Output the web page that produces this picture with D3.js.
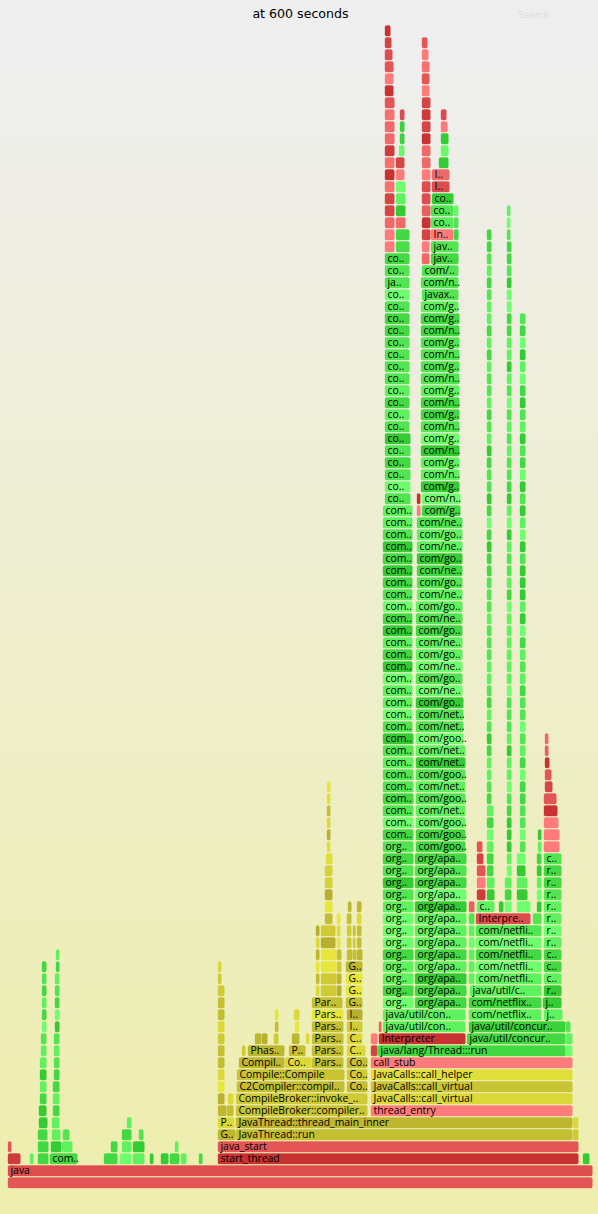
<!DOCTYPE html>
<html><head><meta charset="utf-8">
<script src="https://cdn.jsdelivr.net/npm/d3@7/dist/d3.min.js"></script>
<style>html,body{margin:0;padding:0;background:#eeeeb0}svg{display:block}</style>
</head><body><div id="chart"></div>
<script>
const chartTitle = "at 600 seconds", searchLabel = "Search";
const totalSamples = 585, maxDepth = 100;

// [depth, firstSample, lastSample, label, shade]
const rootRed = [[0,0,585,"",2],[1,0,585,"java",1.5],[2,0,13,"",0.5],[3,0,4,"",2],[2,210,571,"start_thread",0],[3,210,571,"java_start",2],
 [6,363,565,"thread_entry",4],[10,363,565,"call_stub",4],[11,363,370,"",1],[12,363,370,"",4],[12,371,458,"Interpreter",0],[13,371,374,"",2.5],
 [22,468,523,"Interpre..",1.5],[23,461,467,"",2.5],[24,469,478,"",0.5],[25,469,478,"",4],[26,469,478,"",2],[27,469,476,"",1],[28,469,475,"",2],
 [28,536,552,"",4],[29,536,552,"",4],[30,536,551,"",4],[31,536,550,"",0],[32,536,549,"",2],[33,537,545,"",1],[34,537,544,"",2],[35,537,542,"",0],[36,537,541,"",2.5],[37,537,541,"",3],
 [56,409,413,"",4],[57,409,413,"",0]];

const leftGreen = [[2,22,26,"",3],[2,30,41,"",1],[2,42,70,"com..",1],[2,96,110,"",1],[2,112,124,"",4],[2,125,137,"",3],[2,142,146,"",0],[2,153,161,"",0],[2,162,172,"",1],[2,173,179,"",3],[2,191,195,"",1],[2,575,582,"",0],
 [3,30,41,"",1],[3,43,54,"",0],[3,54,65,"",3],[3,103,110,"",1],[3,114,124,"",3],[3,125,137,"",0],[3,167,171,"",3],
 [4,30,40,"",1],[4,44,53,"",3],[4,55,62,"",2],[4,114,124,"",1],[4,131,136,"",2],
 [5,31,40,"",0],[5,44,52,"",3],[5,119,124,"",3],
 [6,31,39,"",0],[6,45,52,"",1],[7,32,39,"",1],[7,45,52,"",3],[8,32,39,"",3],[8,45,52,"",1],[9,32,39,"",0],[9,46,52,"",1],
 [10,32,39,"",3],[10,46,52,"",2],[11,33,39,"",3],[11,46,52,"",3],[12,33,39,"",2],[12,46,52,"",2],[13,34,39,"",4],[13,47,52,"",0],
 [14,34,39,"",1],[14,47,52,"",4],[15,34,39,"",3],[15,47,52,"",1],[16,34,39,"",1],[16,47,52,"",2],[17,34,39,"",2],[17,47,52,"",3],[18,34,39,"",1],[18,48,52,"",1],[19,48,52,"",3]];

const compileYellow = [[4,210,228,"G..",0.5],[4,228,565,"JavaThread::run",1],[4,565,571,"",2],
 [5,210,227,"P..",3],[5,228,565,"JavaThread::thread_main_inner",0.5],[5,565,571,"",3],
 [6,210,219,"",0.5],[6,219,226,"",1],[6,228,360,"CompileBroker::compiler..",1.5],
 [7,210,217,"",0],[7,220,226,"",3],[7,228,360,"CompileBroker::invoke_..",2],[7,363,565,"JavaCalls::call_virtual",3],
 [8,210,217,"",4],[8,229,337,"C2Compiler::compil..",1],[8,339,360,"Co..",1],[8,363,565,"JavaCalls::call_virtual",1.5],
 [9,210,217,"",3],[9,229,337,"Compile::Compile",1.5],[9,339,360,"Co..",2],[9,363,565,"JavaCalls::call_helper",3.5],
 [10,210,217,"",1],[10,231,277,"Compil..",0.5],[10,277,304,"Co..",3],[10,304,336,"Pars..",1],[10,339,360,"Co..",1],
 [11,210,217,"",1],[11,234,238,"",2],[11,240,277,"Phas..",0.5],[11,281,298,"P..",1],[11,304,336,"Pars..",1],[11,339,358,"C..",3],
 [12,210,217,"",2],[12,247,254,"",0.5],[12,254,260,"",0],[12,266,271,"",2],[12,284,292,"",0.5],[12,298,302,"",3],[12,304,336,"Pars..",1],[12,339,355,"C..",3],
 [13,210,217,"",3],[13,267,271,"",1],[13,287,292,"",4],[13,304,336,"Pars..",1],[13,339,355,"I..",2],
 [14,210,217,"",1],[14,267,271,"",4],[14,286,292,"",3],[14,304,336,"Pars..",4],[14,339,355,"I..",0],
 [15,210,217,"",1],[15,304,335,"Par..",1],[15,338,355,"G..",1],
 [16,210,217,"",2],[16,308,312,"",3],[16,313,329,"",2],[16,329,334,"",0],[16,338,355,"G..",4],
 [17,210,214,"",2],[17,308,312,"",1],[17,313,329,"",2],[17,329,334,"",0.5],[17,338,355,"G..",4],
 [18,210,214,"",3],[18,308,312,"",4],[18,313,329,"",4],[18,329,334,"",2],[18,338,355,"G..",0.5],
 [19,308,312,"",0.5],[19,313,329,"",4],[19,329,334,"",1],[19,339,345,"",1],[19,345,349,"",1],[19,349,355,"",0.5],
 [20,308,312,"",3],[20,313,328,"",0],[20,329,333,"",4],[20,339,344,"",2],[20,345,348,"",2],[20,349,354,"",1],
 [21,308,312,"",0],[21,313,328,"",2],[21,329,333,"",3],[21,339,344,"",2],[21,345,348,"",1],[21,349,354,"",1],
 [22,317,325,"",1],[22,329,333,"",4],[22,339,344,"",1],[22,349,354,"",3],
 [23,317,325,"",4],[23,340,344,"",0.5],[23,349,354,"",0.5],
 [24,317,325,"",0],[25,317,325,"",2.5],[26,317,325,"",2.5],[27,318,325,"",3.5],
 [28,319,323,"",3.5],[29,319,323,"",0],[30,319,323,"",3],[31,319,323,"",1],[32,319,323,"",3.5],[33,319,323,"",4]];

const threadGreen = [[11,370,558,"java/lang/Thread:::run",1],[11,558,565,"",4],
 [12,459,558,"java/util/concur..",1],[12,558,565,"",3],
 [13,375,458,"java/util/con..",3],[13,461,558,"java/util/concur..",0.5],[13,558,563,"",2],
 [14,375,458,"java/util/con..",3],[14,461,534,"com/netflix..",3],[14,536,555,"j..",3],
 [15,461,534,"com/netflix..",1],[15,535,554,"j..",0],[16,462,534,"java/util/c..",3],[16,536,554,"r..",0],
 [17,461,467,"",3],[17,468,534,"com/netfli..",3],[17,536,554,"c..",3],
 [18,461,467,"",3],[18,468,534,"com/netfli..",4],[18,536,554,"c..",1],
 [19,461,467,"",3],[19,468,534,"com/netfli..",1],[19,536,554,"c..",1],
 [20,461,467,"",4],[20,468,534,"com/netfli..",4],[20,536,554,"r..",3],
 [21,461,467,"",3],[21,468,534,"com/netfli..",2],[21,536,554,"r..",4],
 [22,461,467,"",2],[22,525,534,"",2],[22,536,554,"r..",3],
 [23,469,487,"c..",3],[23,491,496,"",0],[23,529,534,"",0],[23,536,554,"r..",3],
 [24,529,534,"",4],[24,536,554,"r..",2],[25,529,534,"",3],[25,536,554,"r..",1],
 [26,529,534,"",0],[26,536,554,"r..",1],[27,529,534,"",1],[27,536,554,"c..",2],
 [28,530,534,"",3],[29,530,534,"",0]];

// Tall towers: one shade (and optionally one label) per level, lowest level first.
const towerAFirst = 15;
const towerAShades = [4,1,3,3,1,4,4,4,3,2,0,2,1,2,1,4,2,1,2,2,3,2,0,2,4,3,3,4,0,1,3,0,1,4,2,1,0,1,0,2,3,3,2,4,2,1,2,0,2,3,1,3,2,2,2,2,1,1,2,4,2,2,1];
const towerALabels = ["org..","org..","org..","org..","org..","org..","org..","org..","org..","org..","org..","org..","org..","org..",
 "com..","com..","com..","com..","com..","com..","com..","com..","com..","com..","com..","com..","com..","com..","com..","com..","com..","com..","com..","com..","com..","com..","com..","com..","com..","com..","com..","com..",
 "co..","co..","co..","co..","co..","co..","co..","co..","co..","co..","co..","co..","co..","co..","co..","co..","co..","co..","ja..","co..","co.."];
const towerASpans = [[15,37,375,406],[38,56,375,405],[57,62,377,403],[63,77,377,402]];

const towerBFirst = 15;
const towerBShades = [1,1,0,3,1,3,3,3,0,4,1,2,1,1,1,3,3,2,3,2,0,3,4,2,2,0,4,2,4,3,3,1,2,3,3,2,1,0,3,3,2,1,4,0,3,3,0,4,2,1,1,3,2,2,2,2,1,1,3,2,2,2];
const towerBLabels = ["org/apa..","org/apa..","org/apa..","org/apa..","org/apa..","org/apa..","org/apa..","org/apa..","org/apa..","org/apa..","org/apa..","org/apa..","org/apa..",
 "com/goo..","com/goo..","com/goo..","com/net..","com/goo..","com/net..","com/goo..","com/net..","com/net..","com/goo..","com/net..","com/net..",
 "com/go..","com/ne..","com/go..","com/ne..","com/go..","com/ne..","com/go..","com/ne..","com/go..","com/ne..","com/go..","com/ne..","com/go..","com/ne..","com/go..","com/ne..",
 "com/g..","com/n..","com/g..","com/n..","com/g..","com/n..","com/g..","com/n..","com/g..","com/n..","com/g..","com/n..","com/g..","com/n..","com/g..","com/n..","com/g..",
 "com/g..","javax..","com/n..","com/.."];
const towerBSpans = [[15,27,407,459],[28,36,408,458],[37,40,408,456],[41,48,408,455],[49,55,409,455],[56,57,414,453],[58,72,413,452],[73,73,413,451],[74,74,414,451],[75,75,413,451],[76,76,414,451]];
const towerBTop = [[77,423,451,"jav..",1],[78,423,451,"jav..",2],[80,423,446,"co..",2.5],[81,423,446,"co..",2],[82,424,446,"co..",0],[85,431,441,"",0],[86,433,441,"",3.5],[87,433,441,"",0],
 [79,446,451,"",1],[80,446,451,"",2],[81,446,451,"",3.5],
 [78,388,402,"",1.5],[79,388,402,"",1],[81,388,398,"",0],[82,388,398,"",3],[83,388,398,"",4],[86,391,397,"",3.5],[87,392,397,"",0.5],[88,392,397,"",0.5]];

const towerCFirst = 24;
const towerCShades = [0,3,1,1,3,4,1,3,1,2,3,3,1,0,2,3,1,2,3,3,2,2,2,3,2,2,2,1,1,0,1,4,1,0,2,2,1,0,3,2,1,3,2,2,3,1,3,1,3,3,2,1,3,2,1,1];
const towerCSpans = [[24,25,479,487],[26,31,479,486],[32,79,479,484]];
const towerDFirst = 23;
const towerDShades = [4,1,3,4,3,0,0,0,1,2,4,3,3,0,3,2,2,2,4,3,3,3,3,3,3,4,1,3,2,2,3,0,4,3,0,1,2,2,3,2,3,2,4,2,3,0,3,3,1,1,4,4,0,2,1,1,2,4,3];
const towerDSpans = [[23,25,497,504],[26,78,499,504],[79,81,499,503]];
const towerEFirst = 23;
const towerEShades = [4,0,3,0,4,2,4,2,2,1,1,4,1,3,2,4,2,2,1,3,2,3,1,4,0,3,0,0,0,2,0,4,3,0,2,0,4,1,2,0,3,2,0,1,4,3,0,4,1,2];
const towerESpans = [[23,23,509,523],[24,25,509,520],[26,27,509,518],[28,72,512,518]];

// Red leaves on top of the two main towers: [depth, first, last, label, shade]
const topRed = [[96,377,383,"",0],[95,377,384,"",1],[94,377,385,"",1.5],[93,377,386,"",2],[92,377,386,"",4],[91,377,386,"",0],[90,377,387,"",2],[89,377,387,"",3.5],[88,377,387,"",3],[87,377,387,"",3],[86,377,387,"",0.5],[85,377,387,"",3.5],[84,377,387,"",0],[83,377,387,"",3.5],[82,377,387,"",1],[81,377,387,"",1],[80,377,387,"",3],[79,377,387,"",4],[78,377,387,"",4],
 [89,392,397,"",1.5],[85,388,397,"",1],[84,388,397,"",4],[80,388,398,"",3],
 [95,414,420,"",2],[94,414,421,"",4],[93,414,422,"",3.5],[92,414,422,"",2],[91,414,422,"",4],[90,414,423,"",1],[89,414,423,"",0.5],[88,414,423,"",1],[87,414,423,"",0],[86,414,423,"",3],[85,414,423,"",3],[84,414,423,"",4],[83,414,423,"",1.5],[82,414,423,"",1.5],[81,414,423,"",2.5],[80,414,423,"",0],[79,414,423,"",1],[78,414,422,"",4],[77,414,422,"",3],
 [89,433,439,"",1.5],[88,433,440,"",4],[84,424,442,"I..",3],[83,424,442,"I..",1.5],[79,423,446,"In..",4]];

const W = 598, H = 1214;
const x = d3.scaleLinear().domain([0, totalSamples]).range([8, 593]);
const y = d3.scaleLinear().domain([0, maxDepth]).range([1177, -23]);
const shade = {
  g: d3.scaleLinear().domain([0, 4]).range(["#33cc33", "#6eff6e"]),
  y: d3.scaleLinear().domain([0, 4]).range(["#b8b02e", "#e6e63c"]),
  r: d3.scaleLinear().domain([0, 4]).range(["#c83232", "#ff7a7a"])
};

function tower(first, shades, spans, labels) {
  return shades.map((s, i) => {
    const depth = first + i, sp = spans.find(p => depth >= p[0] && depth <= p[1]);
    return sp ? [depth, sp[2], sp[3], labels ? labels[i] : "", s] : null;
  }).filter(Boolean);
}
const tag = (arr, k) => arr.map(f => ({depth: f[0], a: f[1], b: f[2], label: f[3], s: f[4], k}));
const frames = [
  ...tag(rootRed, "r"), ...tag(topRed, "r"),
  ...tag(compileYellow, "y"), ...tag(leftGreen, "g"), ...tag(threadGreen, "g"), ...tag(towerBTop, "g"),
  ...tag(tower(towerAFirst, towerAShades, towerASpans, towerALabels), "g"),
  ...tag(tower(towerBFirst, towerBShades, towerBSpans, towerBLabels), "g"),
  ...tag(tower(towerCFirst, towerCShades, towerCSpans), "g"),
  ...tag(tower(towerDFirst, towerDShades, towerDSpans), "g"),
  ...tag(tower(towerEFirst, towerEShades, towerESpans), "g")
];

const svg = d3.select("#chart").append("svg").attr("width", W).attr("height", H);
const grad = svg.append("defs").append("linearGradient").attr("id", "bg").attr("x1", 0).attr("x2", 0).attr("y1", 0).attr("y2", 1);
grad.append("stop").attr("offset", "5%").attr("stop-color", "#eeeeee");
grad.append("stop").attr("offset", "95%").attr("stop-color", "#eeeeb0");
svg.append("rect").attr("width", W).attr("height", H).attr("fill", "url(#bg)");

svg.append("text").attr("x", 300.5).attr("y", 18).attr("text-anchor", "middle")
  .attr("font-family", "DejaVu Sans, Verdana, sans-serif").attr("font-size", 12.6).attr("fill", "#000").text(chartTitle);
svg.append("text").attr("x", 518).attr("y", 18).attr("font-family", "DejaVu Sans, Verdana, sans-serif")
  .attr("font-size", 9).attr("fill", "#dcdcdc").text(searchLabel);

const g = svg.selectAll("g.frame").data(frames).join("g").attr("class", "frame");
g.append("rect")
  .attr("x", d => x(d.a))
  .attr("y", d => y(d.depth) + 0.5)
  .attr("width", d => Math.max(1, x(d.b) - x(d.a) - 0.7))
  .attr("height", 10.5)
  .attr("rx", 1.5).attr("ry", 1.5)
  .attr("fill", d => shade[d.k](d.s))
  .attr("stroke", d => shade[d.k](d.s)).attr("stroke-opacity", 0.35).attr("stroke-width", 1);
g.filter(d => d.label).append("text")
  .attr("x", d => x(d.a) + 2.5)
  .attr("y", d => y(d.depth) + 9.2)
  .attr("font-family", "Open Sans, DejaVu Sans, sans-serif")
  .attr("font-size", 10.4).attr("fill", "#000")
  .attr("textLength", d => d.label.startsWith("JavaCalls") ? 99 : null)
  .attr("lengthAdjust", "spacing")
  .text(d => d.label);
</script></body></html>
